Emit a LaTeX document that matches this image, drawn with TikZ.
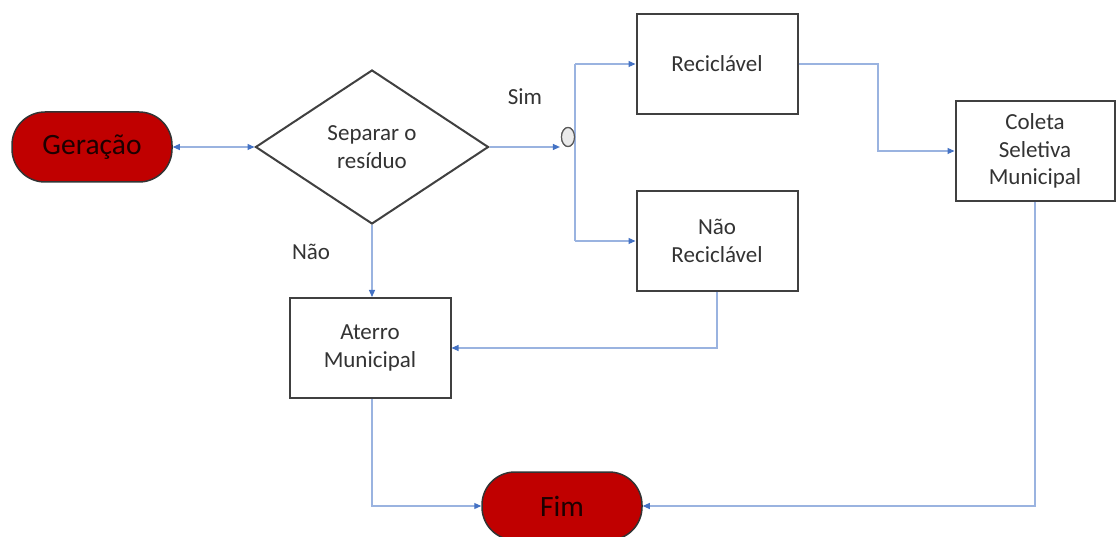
\documentclass[tikz,border=0pt]{standalone}
\usepackage{fontspec}
\setmainfont{Carlito}
\usetikzlibrary{shapes.geometric,arrows.meta}
\definecolor{boxline}{HTML}{404040}
\definecolor{boxtext}{HTML}{333333}
\definecolor{termred}{HTML}{C00000}
\definecolor{flowline}{HTML}{9AB3E0}
\definecolor{tipblue}{HTML}{4472C4}
\tikzset{
  procbox/.style={draw=boxline, line width=2pt, fill=white, minimum width=161pt,
    minimum height=100pt, inner sep=0pt, align=center, text=boxtext,
    font=\fontsize{23}{27.5}\selectfont},
  terminal/.style={draw=black!80, line width=1.5pt, fill=termred, rounded corners=33pt,
    minimum width=160pt, minimum height=70pt, inner sep=0pt, text=black!85!termred,
    font=\fontsize{29.5}{32}\selectfont},
  decision/.style={diamond, draw=boxline, line width=2pt, fill=white, minimum width=233pt,
    minimum height=154pt, inner sep=0pt, align=center, text=boxtext,
    font=\fontsize{23}{27.5}\selectfont},
  tip/.style={Triangle[length=7pt,width=6pt,color=tipblue]},
  flow/.style={draw=flowline, line width=1.1pt, -{Triangle[length=7pt,width=6pt,color=tipblue]}},
  lbl/.style={text=boxtext, font=\fontsize{23}{27.5}\selectfont, inner sep=0pt}
}
\begin{document}
\begin{tikzpicture}[x=1pt,y=-1pt]
  \useasboundingbox[fill=white] (0,0) rectangle (1117,537);

  % nodes
  \node[terminal] (ger) at (92,147) {Geração};
  \node[decision] (sep) at (372,147) {Separar o\\resíduo};
  \node[ellipse, draw=black!65, line width=1.2pt, fill=black!8, minimum width=13pt,
        minimum height=19pt, inner sep=0pt] (junc) at (568,137) {};
  \node[procbox] (rec) at (717,64) {Reciclável};
  \node[procbox] (nrec) at (717,241) {Não\\Reciclável};
  \node[procbox, minimum width=159pt] (col) at (1035,151) {Coleta\\Seletiva\\Municipal};
  \node[procbox] (ate) at (370,348) {Aterro\\Municipal};
  \node[terminal, minimum height=68pt] (fim) at (562,506) {Fim};

  \node[lbl] (sim) at (525,97) {Sim};
  \node[lbl] (nao) at (311,252) {Não};

  % junction branch points
  \coordinate (jt) at (575,64);
  \coordinate (jb) at (575,241);
  \coordinate (rc) at (878,64);

  % connectors
  \draw[draw=flowline, line width=1.1pt, {Triangle[length=7pt,width=6pt,color=tipblue]}-{Triangle[length=7pt,width=6pt,color=tipblue]}]
    (ger.east) -- (sep.west);
  \draw[flow] (sep.east) -- ([xshift=-1pt]sep.east -| junc.west);
  \draw[draw=flowline, line width=1.1pt] (jt) -- (jb);
  \draw[flow] (jt) -- (rec.west);
  \draw[flow] (jb) -- (nrec.west);
  \draw[flow] (rec.east) -- (rc) |- (col.west);
  \draw[flow] (sep.south) -- (sep.south |- ate.north);
  \draw[flow] (nrec.south) |- (ate.east);
  \draw[flow] (sep.south |- ate.south) |- (fim.west);
  \draw[flow] (col.south) |- (fim.east);

  % junction drawn over the vertical line
  \node[ellipse, draw=black!65, line width=1.2pt, fill=black!8, minimum width=13pt,
        minimum height=19pt, inner sep=0pt] at (junc) {};
\end{tikzpicture}
\end{document}
